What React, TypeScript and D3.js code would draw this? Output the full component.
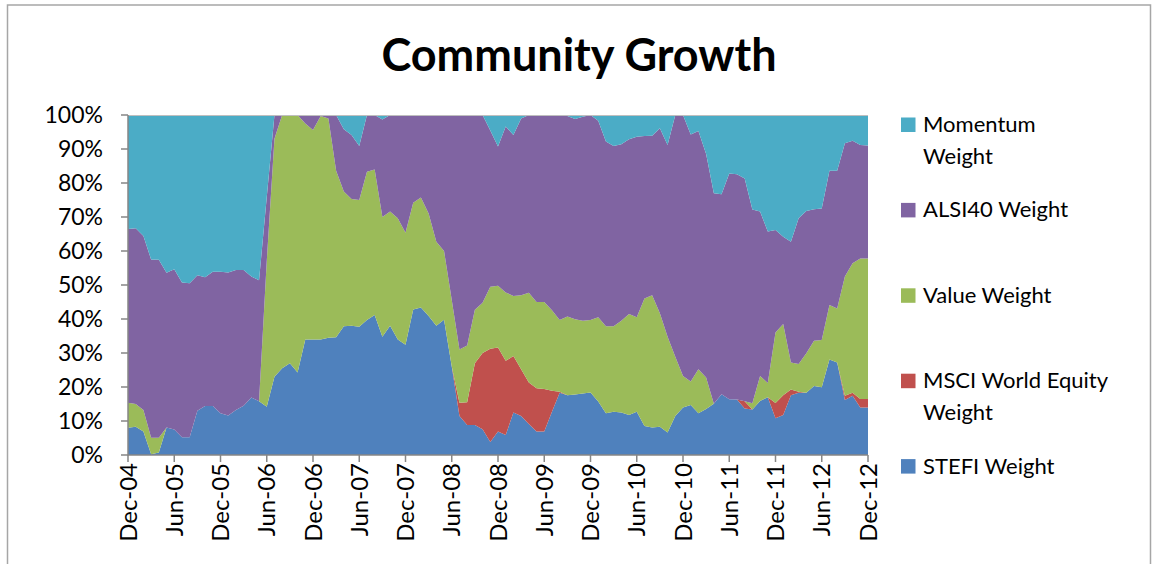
import React from "react";
import * as d3 from "d3";

// ---- Data (monthly weights, %, Dec-04 .. Dec-12) ----
const stefi = [8.0,8.3,6.9,0.2,0.7,8.1,7.5,5.2,5.2,13.0,14.4,14.4,12.3,11.6,13.2,14.5,16.9,15.8,14.2,23.0,25.5,27.0,24.3,34.0,34.0,34.0,34.5,34.6,37.9,38.0,37.7,39.7,41.2,34.8,38.0,34.0,32.4,42.8,43.4,40.9,38.0,39.8,26.0,11.5,8.8,8.8,7.6,3.8,6.9,5.9,12.5,11.5,9.1,6.9,6.9,12.7,18.3,17.6,17.8,18.1,18.4,15.7,12.3,12.7,12.5,11.8,12.7,8.5,8.1,8.3,6.6,11.5,14.0,14.7,12.3,13.5,15.1,17.9,16.4,16.3,13.7,13.4,15.9,17.0,10.8,11.8,17.6,18.3,18.3,20.3,19.9,28.1,27.2,16.2,17.4,14.0,14.0];
const msci = [0,0,0,0,0,0,0,0,0,0,0,0,0,0,0,0,0,0,0,0,0,0,0,0,0,0,0,0,0,0,0,0,0,0,0,0,0,0,0,0,0,0,0,3.9,6.7,18.2,22.4,27.5,24.7,21.8,16.6,13.7,12.2,12.7,12.5,6.2,0.3,0,0,0,0,0,0,0,0,0,0,0,0,0,0,0,0,0,0,0,0,0,0,0,2.1,0,0,0,4.5,5.8,1.7,0.3,0,0,0,0,0,1.2,0.9,2.5,2.5];
const value = [7.4,6.7,6.3,4.9,4.4,0,0,0,0,0,0,0,0,0,0,0,0,0,42.8,70.0,74.5,73.0,75.7,63.5,61.6,65.7,64.5,49.0,39.6,37.3,37.3,43.6,42.8,35.2,33.6,35.6,33.0,31.4,32.3,30.1,24.7,20.2,19.6,15.6,16.7,15.7,14.8,18.2,18.2,20.1,17.7,21.8,26.4,25.4,25.6,23.7,21.1,23.1,22.1,21.4,21.3,24.8,25.6,25.2,27.0,29.7,27.8,37.5,38.9,33.4,28.2,17.4,9.2,6.9,12.9,9.3,0,0,0,0,0,1.8,7.3,4.2,20.7,20.9,7.9,8.2,11.6,13.3,13.9,16.0,15.9,35.1,38.1,41.3,41.3];
const alsi40 = [51.1,51.7,51.2,52.4,52.3,45.5,47.1,45.5,45.3,39.9,37.9,39.5,41.6,42.1,41.2,39.9,35.6,35.6,18.8,7.0,0,0,0,2.5,4.4,0.3,1.0,16.4,18.3,18.8,15.9,16.7,16.0,28.7,28.4,30.4,34.6,25.8,24.3,29.0,37.3,40.0,54.4,69.0,67.8,57.3,55.2,46.0,40.9,48.8,47.3,52.0,52.3,55.0,55.0,57.4,60.3,59.0,58.9,60.0,60.3,57.8,54.3,53.0,51.9,51.4,53.1,47.8,46.9,54.4,56.4,71.1,76.8,72.7,70.1,65.7,61.9,58.8,66.4,66.3,65.5,57.0,48.4,44.5,30.2,25.7,35.5,42.8,41.9,38.7,38.7,39.5,40.5,39.2,36.0,33.4,33.2];
const momentum = [33.5,33.3,35.6,42.5,42.6,46.4,45.4,49.3,49.5,47.1,47.7,46.1,46.1,46.3,45.6,45.6,47.5,48.6,24.2,0,0,0,0,0,0,0,0,0,4.2,5.9,9.1,0,0,1.3,0,0,0,0,0,0,0,0,0,0,0,0,0,4.6,9.3,3.4,5.9,1.0,0,0,0,0,0,0.3,1.2,0.5,0,1.7,7.8,9.1,8.6,7.1,6.4,6.2,6.1,3.9,8.8,0,0,5.7,4.7,11.5,23.0,23.3,17.2,17.4,18.7,27.8,28.4,34.3,33.8,35.8,37.3,30.4,28.2,27.7,27.5,16.4,16.4,8.3,7.6,8.8,9.0];

const seriesKeys = ["stefi", "msci", "value", "alsi40", "momentum"];
const seriesNames = ["STEFI Weight", "MSCI World Equity Weight", "Value Weight", "ALSI40 Weight", "Momentum Weight"];
const seriesColors = ["#4F81BD", "#C0504D", "#9BBB59", "#8064A2", "#4BACC6"];
// legend order (top to bottom) and wrapped lines
const legendOrder = [4, 3, 2, 1, 0];
const legendLines = [["STEFI Weight"], ["MSCI World Equity", "Weight"], ["Value Weight"], ["ALSI40 Weight"], ["Momentum", "Weight"]];

const yTicks = [0, 10, 20, 30, 40, 50, 60, 70, 80, 90, 100];
const xTickLabels = ["Dec-04","Jun-05","Dec-05","Jun-06","Dec-06","Jun-07","Dec-07","Jun-08","Dec-08","Jun-09","Dec-09","Jun-10","Dec-10","Jun-11","Dec-11","Jun-12","Dec-12"];
const title = "Community Growth";

const months = d3.timeMonth.range(new Date(2004, 11, 1), new Date(2013, 0, 1));

export default function App() {
  const W = 1152, H = 564;
  const left = 128, right = 868, top = 115, bottom = 455;
  const font = "Lato, 'Open Sans', sans-serif";

  const rows = months.map((m, i) => ({
    i, stefi: stefi[i], msci: msci[i], value: value[i], alsi40: alsi40[i], momentum: momentum[i],
  }));

  const x = d3.scaleLinear().domain([0, months.length - 1]).range([left, right]);
  const y = d3.scaleLinear().domain([0, 1]).range([bottom, top]);

  const stack = d3.stack<any>().keys(seriesKeys).offset(d3.stackOffsetExpand);
  const layers = stack(rows);
  const area = d3.area<any>()
    .x((d) => x(d.data.i))
    .y0((d) => y(d[0]))
    .y1((d) => y(d[1]))
    .curve(d3.curveLinear);

  const axisColor = "#868686";
  const legendX = 901, legendTop = 125, legendStep = 85.4;

  return (
    <svg width={W} height={H} style={{ position: "absolute", left: 0, top: 0, background: "#fff" }}>
      <rect x={0} y={0} width={W} height={H} fill="#fff" />
      <rect x={7.5} y={5} width={1143} height={700} fill="#fff" stroke="#a6a6a6" strokeWidth={1.5} />
      <text x={579} y={71} textAnchor="middle" fontFamily={font} fontWeight="bold" fontSize={45} fill="#000">
        {title}
      </text>

      {layers.map((layer, k) => (
        <path key={k} d={area(layer) || ""} fill={seriesColors[k]} />
      ))}

      {/* top gridline */}
      <line x1={left} x2={right} y1={top + 0.5} y2={top + 0.5} stroke="#bfbfbf" strokeWidth={1} />

      {/* y axis */}
      <line x1={left} x2={left} y1={top} y2={bottom + 0.5} stroke={axisColor} strokeWidth={1.5} />
      {yTicks.map((t) => (
        <g key={t}>
          <line x1={left - 7} x2={left} y1={y(t / 100)} y2={y(t / 100)} stroke={axisColor} strokeWidth={1.5} />
          <text x={103} y={y(t / 100)} dy="0.36em" textAnchor="end" fontFamily={font} fontSize={23} fill="#000">
            {t + "%"}
          </text>
        </g>
      ))}

      {/* x axis */}
      <line x1={left} x2={right} y1={bottom} y2={bottom} stroke={axisColor} strokeWidth={1.5} />
      {xTickLabels.map((lab, j) => {
        const xi = x(j * 6);
        return (
          <g key={lab}>
            <line x1={xi} x2={xi} y1={bottom} y2={bottom + 7} stroke={axisColor} strokeWidth={1.5} />
            <text transform={`translate(${xi},${bottom + 8}) rotate(-90)`} dy="0.36em" textAnchor="end"
              fontFamily={font} fontSize={24} fill="#000">
              {lab}
            </text>
          </g>
        );
      })}

      {/* legend */}
      {legendOrder.map((k, n) => {
        const cy = legendTop + n * legendStep;
        const lines = legendLines[k];
        return (
          <g key={seriesNames[k]}>
            <rect x={legendX} y={cy - 7.5} width={14.5} height={14.5} fill={seriesColors[k]} />
            <text x={923} y={cy + 7} fontFamily={font} fontSize={22} fill="#000">
              {lines.map((ln, li) => (
                <tspan key={li} x={923} dy={li === 0 ? 0 : 32}>{ln}</tspan>
              ))}
            </text>
          </g>
        );
      })}
    </svg>
  );
}
